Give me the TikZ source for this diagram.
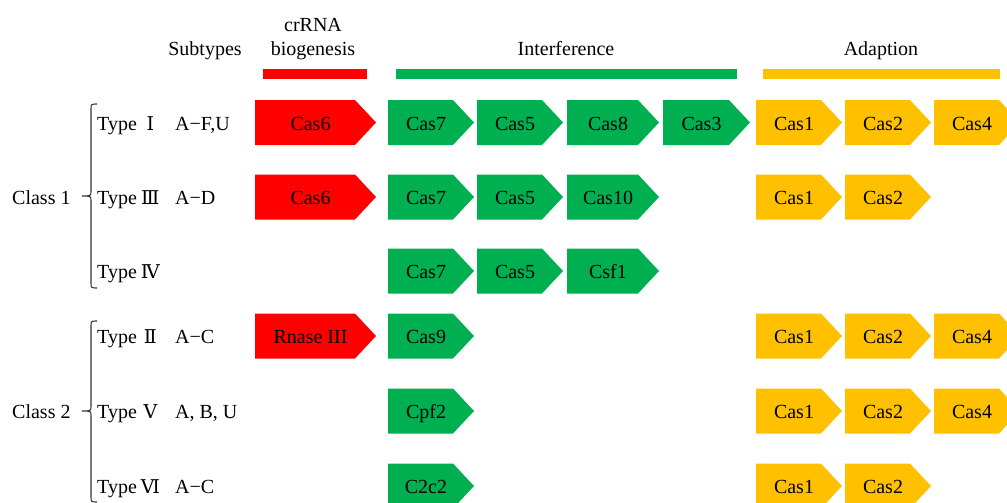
\documentclass[tikz,border=0pt]{standalone}
\usepackage{fontspec}
\setmainfont{Liberation Serif}
\newfontfamily\numfont{DejaVu Serif}
\usetikzlibrary{positioning}
\definecolor{casred}{RGB}{255,0,0}
\definecolor{casgreen}{RGB}{0,176,80}
\definecolor{casyellow}{RGB}{255,192,0}
\tikzset{gene text/.style={inner sep=0pt,text height=19pt,text depth=4pt,font=\fontsize{20}{24}\selectfont},
  head text/.style={inner sep=0pt,text height=19pt,text depth=4pt,font=\fontsize{20}{24}\selectfont},
  type text/.style={anchor=west,inner sep=0pt,text height=19pt,text depth=4pt,font=\fontsize{20}{24}\selectfont},
  bar/.style={inner sep=0pt,minimum height=10pt},
  brace line/.style={draw=black!80,line width=1.1pt},
}
% #1 name, #2 west x, #3 centre y, #4 width, #5 colour, #6 text
\newcommand{\gene}[6]{%
  \fill[#5] (#2,#3-22.5) -- (#2+#4-21,#3-22.5) -- (#2+#4,#3)
    -- (#2+#4-21,#3+22.5) -- (#2,#3+22.5) -- cycle;
  \node[gene text] (#1) at (#2+#4/2-5,#3) {#6};}
\newcommand{\rmn}[1]{\hspace{1pt}\makebox[25pt]{\numfont\fontsize{19}{24}\selectfont #1}}

\begin{document}
\begin{tikzpicture}[x=1pt,y=-1pt]
\useasboundingbox (0,0) rectangle (1007,503);

%% headers
\node[head text] (subtypes) at (205,48) {Subtypes};
\node[head text] (crrna) at (313,24) {crRNA};
\node[head text] (biogen) at (313,48) {biogenesis};
\node[head text] (interf) at (566,48) {Interference};
\node[head text] (adapt) at (881,48) {Adaption};
\node[bar,fill=casred,minimum width=104pt] (redbar) at (315,74) {};
\node[bar,fill=casgreen,minimum width=341pt] (greenbar) at (566.5,74) {};
\node[bar,fill=casyellow,minimum width=237pt] (yellowbar) at (881.5,74) {};

%% class 1
\node[type text] (class1) at (12,197) {Class 1};
\node[type text] (t1) at (97,122.5) {Type\rmn{Ⅰ}};
\node[type text] (s1) at (175,122.5) {A−F,U};
\node[type text] (t3) at (97,197) {Type\rmn{Ⅲ}};
\node[type text] (s3) at (175,197) {A−D};
\node[type text] (t4) at (97,271) {Type\rmn{Ⅳ}};
\draw[brace line] (97,104) .. controls (91,104) .. (91,110) -- (91,191)
  .. controls (91,196) .. (82,196) .. controls (91,196) .. (91,201)
  -- (91,282) .. controls (91,288) .. (97,288);

%% class 2
\node[type text] (class2) at (12,411) {Class 2};
\node[type text] (t2) at (97,336) {Type\rmn{Ⅱ}};
\node[type text] (s2) at (175,336) {A−C};
\node[type text] (t5) at (97,411) {Type\rmn{Ⅴ}};
\node[type text] (s5) at (175,411) {A, B, U};
\node[type text] (t6) at (97,486) {Type\rmn{Ⅵ}};
\node[type text] (s6) at (175,486) {A−C};
\draw[brace line] (97,321) .. controls (91,321) .. (91,327) -- (91,406)
  .. controls (91,411) .. (82,411) .. controls (91,411) .. (91,416)
  -- (91,496) .. controls (91,502) .. (97,502);

%% type I
\gene{r1a}{255}{122.5}{121}{casred}{Cas6}
\gene{r1b}{388}{122.5}{86}{casgreen}{Cas7}
\gene{r1c}{477}{122.5}{86}{casgreen}{Cas5}
\gene{r1d}{567}{122.5}{92}{casgreen}{Cas8}
\gene{r1e}{663}{122.5}{87}{casgreen}{Cas3}
\gene{r1f}{756}{122.5}{86}{casyellow}{Cas1}
\gene{r1g}{845}{122.5}{86}{casyellow}{Cas2}
\gene{r1h}{934}{122.5}{86}{casyellow}{Cas4}
%% type III
\gene{r2a}{255}{197}{121}{casred}{Cas6}
\gene{r2b}{388}{197}{86}{casgreen}{Cas7}
\gene{r2c}{477}{197}{86}{casgreen}{Cas5}
\gene{r2d}{567}{197}{92}{casgreen}{Cas10}
\gene{r2f}{756}{197}{86}{casyellow}{Cas1}
\gene{r2g}{845}{197}{86}{casyellow}{Cas2}
%% type IV
\gene{r3b}{388}{271}{86}{casgreen}{Cas7}
\gene{r3c}{477}{271}{86}{casgreen}{Cas5}
\gene{r3d}{567}{271}{92}{casgreen}{Csf1}
%% type II
\gene{r4a}{255}{336}{121}{casred}{Rnase III}
\gene{r4b}{388}{336}{86}{casgreen}{Cas9}
\gene{r4f}{756}{336}{86}{casyellow}{Cas1}
\gene{r4g}{845}{336}{86}{casyellow}{Cas2}
\gene{r4h}{934}{336}{86}{casyellow}{Cas4}
%% type V
\gene{r5b}{388}{411}{86}{casgreen}{Cpf2}
\gene{r5f}{756}{411}{86}{casyellow}{Cas1}
\gene{r5g}{845}{411}{86}{casyellow}{Cas2}
\gene{r5h}{934}{411}{86}{casyellow}{Cas4}
%% type VI
\gene{r6b}{388}{486}{86}{casgreen}{C2c2}
\gene{r6f}{756}{486}{86}{casyellow}{Cas1}
\gene{r6g}{845}{486}{86}{casyellow}{Cas2}
\end{tikzpicture}
\end{document}
